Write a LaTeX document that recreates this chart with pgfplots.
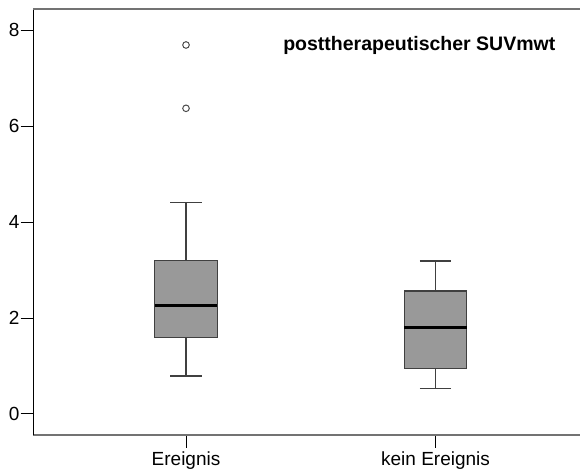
\documentclass[border=0pt]{standalone}
\usepackage{fontspec}
\setmainfont{Liberation Sans}
\usepackage{pgfplots}
\pgfplotsset{compat=1.18}
\usepgfplotslibrary{statistics}
\begin{document}
\begin{tikzpicture}
\begin{axis}[
  at={(33.3pt,37.7pt)}, anchor=south west,
  scale only axis, width=546.2pt, height=426.3pt,
  xmin=0.388, xmax=2.577, ymin=-0.444, ymax=8.44,
  axis x line*=bottom, axis y line*=left,
  x axis line style={-, draw=black!55, line width=1.6pt},
  y axis line style={-, draw=black, line width=1pt},
  xtick={1,2}, xticklabels={Ereignis, kein Ereignis},
  ytick={0,2,4,6,8},
  tick align=outside, major tick length=12.6pt,
  tick style={black, line width=1pt},
  /pgf/number format/assume math mode=true,
  ticklabel style={font=\fontsize{19}{22}\selectfont},
  yticklabel style={inner xsep=1pt},
  xticklabel style={inner ysep=4pt},
  boxplot/draw direction=y,
  boxplot/box extend=0.25, boxplot/whisker extend=0.125,
  boxplot/every median/.style={draw=black, line width=3pt},
  clip=false,
]
\addplot[boxplot prepared={lower whisker=0.79, lower quartile=1.60, median=2.27,
    upper quartile=3.20, upper whisker=4.41, draw position=1},
  draw=black!75, fill=black!40, line width=1.3pt,
  mark=o, mark size=3.3pt, mark options={draw=black!70, fill=white, line width=1pt}]
  coordinates {(1,7.69) (1,6.37)};
\addplot[boxplot prepared={lower whisker=0.53, lower quartile=0.95, median=1.81,
    upper quartile=2.56, upper whisker=3.19, draw position=2},
  draw=black!75, fill=black!40, line width=1.3pt,
  mark=o, mark size=3.3pt, mark options={draw=black!70, fill=white, line width=1pt}]
  coordinates {};
\draw[black!55, line width=1.6pt] (rel axis cs:0,1) -- (rel axis cs:1,1);
\node[font=\fontsize{19.5}{22}\selectfont\bfseries] at (axis cs:1.935,7.69) {posttherapeutischer SUVmwt};
\end{axis}
\pgfresetboundingbox
\path (0,0) rectangle (580pt,473pt);
\end{tikzpicture}
\end{document}
